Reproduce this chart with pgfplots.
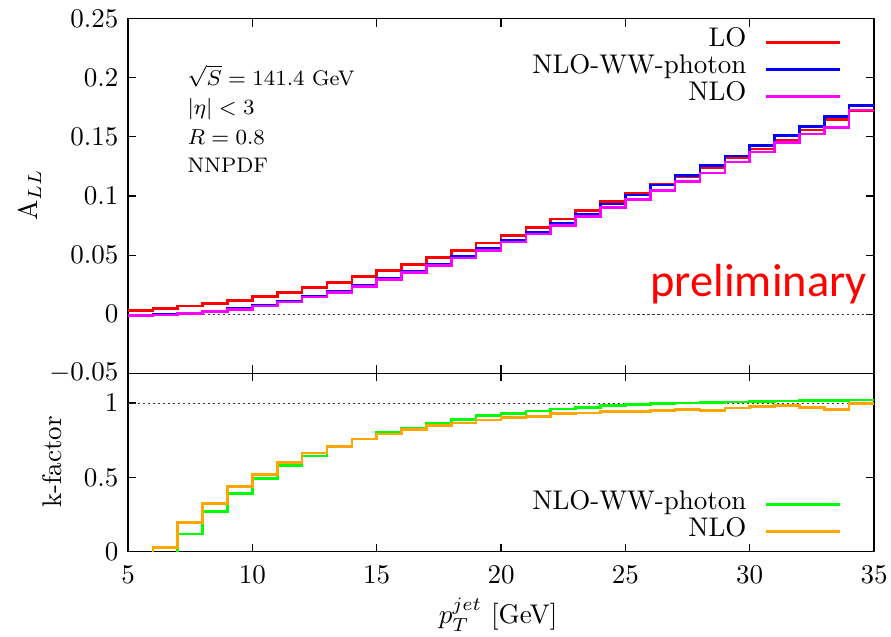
\documentclass[border=0pt]{standalone}
\usepackage{fontspec}
\usepackage{pgfplots}
\usepackage{pgfplotstable}
\pgfplotsset{compat=1.18}
\newfontfamily\carlito{Carlito}
\definecolor{cred}{RGB}{255,0,0}
\definecolor{cblue}{RGB}{0,0,255}
\definecolor{cmag}{RGB}{255,0,255}
\definecolor{cgreen}{RGB}{0,255,0}
\definecolor{corange}{RGB}{255,165,0}

\pgfplotstableread{
x lo ww nlo
5 0.0030 -0.0008 -0.0010
6 0.0048 -0.0005 -0.0008
7 0.0068 0.0010 0.0006
8 0.0093 0.0027 0.0023
9 0.0118 0.0046 0.0042
10 0.0149 0.0075 0.0070
11 0.0186 0.0109 0.0104
12 0.0228 0.0151 0.0146
13 0.0270 0.0192 0.0186
14 0.0318 0.0243 0.0236
15 0.0369 0.0300 0.0293
16 0.0422 0.0362 0.0352
17 0.0481 0.0426 0.0414
18 0.0540 0.0490 0.0476
19 0.0602 0.0557 0.0538
20 0.0667 0.0622 0.0610
21 0.0735 0.0695 0.0678
22 0.0805 0.0772 0.0752
23 0.0878 0.0847 0.0825
24 0.0953 0.0932 0.0904
25 0.1025 0.1010 0.0971
26 0.1095 0.1093 0.1047
27 0.1166 0.1174 0.1123
28 0.1242 0.1256 0.1194
29 0.1320 0.1340 0.1288
30 0.1399 0.1425 0.1374
31 0.1475 0.1510 0.1455
32 0.1560 0.1590 0.1525
33 0.1648 0.1672 0.1579
34 0.1725 0.1766 0.1729
35 0.1725 0.1766 0.1729
}\tabupper

\pgfplotstableread{
x ww nlo
5 -0.05 -0.05
6 -0.05 0.030
7 0.119 0.195
8 0.270 0.323
9 0.391 0.438
10 0.492 0.521
11 0.578 0.600
12 0.645 0.665
13 0.706 0.706
14 0.759 0.759
15 0.800 0.792
16 0.831 0.820
17 0.865 0.849
18 0.888 0.865
19 0.915 0.886
20 0.930 0.903
21 0.946 0.910
22 0.960 0.930
23 0.970 0.933
24 0.982 0.942
25 0.989 0.943
26 0.995 0.950
27 1.000 0.957
28 1.004 0.950
29 1.007 0.966
30 1.011 0.975
31 1.013 0.984
32 1.016 0.968
33 1.016 0.955
34 1.020 0.997
35 1.020 0.997
}\tablower

\pgfplotsset{
  every axis/.append style={font=\fontsize{10}{12}\selectfont},
  myaxis/.style={
    scale only axis,
    width=276.3pt,
    xmin=5, xmax=35,
    xtick={5,10,...,35},
    axis line style={line width=0.5pt},
    major tick length=3pt,
    tick style={black, line width=0.4pt},
    clip=true,
    legend cell align=right,
    legend plot pos=right,
    legend image code/.code={\draw[##1, line width=0.96pt] (0pt,0pt) -- (27.4pt,0pt);},
  },
}

\begin{document}
\begin{tikzpicture}[font=\fontsize{10}{12}\selectfont]
\useasboundingbox (0pt,0pt) rectangle (330pt,-235.56pt);

\begin{axis}[myaxis,
  at={(47.41pt,-6.93pt)}, anchor=north west,
  height=131.33pt,
  ymin=-0.05, ymax=0.25,
  ytick={-0.05,0,0.05,0.1,0.15,0.2,0.25},
  yticklabel style={/pgf/number format/fixed, /pgf/number format/precision=2},
  scaled y ticks=false,
  xticklabel=\empty,
  ylabel={A$_{LL}$},
  ylabel style={at={(axis description cs:-0.132,0.503)}, anchor=center},
  legend style={draw=none, fill=none, at={(0.9558,0.9718)}, anchor=north east,
    inner sep=0pt, outer sep=0pt, row sep=0pt, column sep=6.67pt,
    nodes={inner sep=0pt, text height=6.67pt, text depth=3.33pt},
    font=\fontsize{10}{12}\selectfont},
]
\addplot[forget plot, black!80, line width=0.3pt, dash pattern=on 0.75pt off 1.1pt] coordinates {(5,0) (35,0)};
\addplot[const plot, cred, line width=0.96pt] table[x=x, y=lo] {\tabupper};
\addlegendentry{LO}
\addplot[const plot, cblue, line width=0.96pt] table[x=x, y=ww] {\tabupper};
\addlegendentry{NLO-WW-photon}
\addplot[const plot, cmag, line width=0.96pt] table[x=x, y=nlo] {\tabupper};
\addlegendentry{NLO}
\node[anchor=base west, font=\fontsize{7.8}{9}\selectfont] at (axis cs:7.01,0.1937) {$\sqrt{S} = 141.4$ GeV};
\node[anchor=base west, font=\fontsize{7.8}{9}\selectfont] at (axis cs:7.01,0.1687) {$|\eta| < 3$};
\node[anchor=base west, font=\fontsize{7.8}{9}\selectfont] at (axis cs:7.01,0.1438) {$R = 0.8$};
\node[anchor=base west, font=\fontsize{7.8}{9}\selectfont] at (axis cs:7.01,0.1198) {NNPDF};
\node[anchor=base west, text=cred, font=\carlito\fontsize{17.2}{19}\selectfont] at (axis cs:25.63,0.0146) {preliminary};
\end{axis}

\begin{axis}[myaxis,
  at={(47.41pt,-138.26pt)}, anchor=north west,
  height=66.07pt,
  ymin=0, ymax=1.2,
  ytick={0,0.5,1},
  xticklabel style={yshift=-1.85pt},
  xlabel={$p_T^{jet}$ [GeV]},
  xlabel style={at={(axis description cs:0.496,-0.355)}, anchor=center},
  ylabel={k-factor},
  ylabel style={at={(axis description cs:-0.102,0.503)}, anchor=center},
  legend style={draw=none, fill=none, at={(0.9558,0.34)}, anchor=north east,
    inner sep=0pt, outer sep=0pt, row sep=0pt, column sep=6.67pt,
    nodes={inner sep=0pt, text height=6.67pt, text depth=3.33pt},
    font=\fontsize{10}{12}\selectfont},
]
\addplot[forget plot, black!80, line width=0.3pt, dash pattern=on 0.75pt off 1.1pt] coordinates {(5,1) (35,1)};
\addplot[const plot, cgreen, line width=0.96pt] table[x=x, y=ww] {\tablower};
\addlegendentry{NLO-WW-photon}
\addplot[const plot, corange, line width=0.96pt] table[x=x, y=nlo] {\tablower};
\addlegendentry{NLO}
\end{axis}
\end{tikzpicture}
\end{document}
